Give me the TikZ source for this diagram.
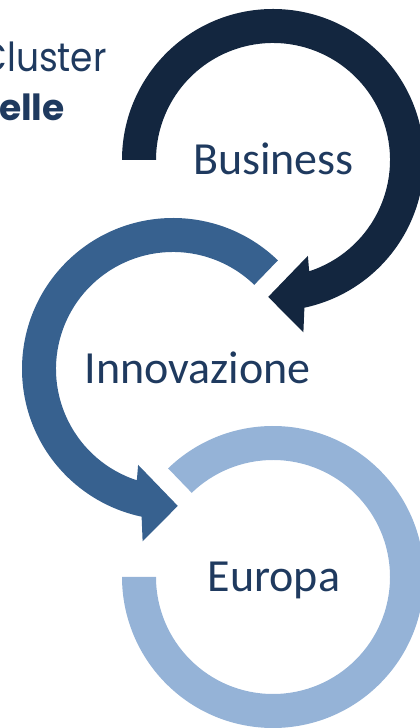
\documentclass[tikz,border=0pt]{standalone}
\usepackage{fontspec}
\setmainfont{Carlito}
\newfontfamily\titlefont{Poppins}[FakeStretch=0.9]
\newfontfamily\titleboldfont{Poppins}
\definecolor{navy}{HTML}{13263F}
\definecolor{bluemid}{HTML}{37618F}
\definecolor{bluelight}{HTML}{95B3D7}
\definecolor{textblue}{HTML}{1F3A5F}
\tikzset{voce/.style={font=\fontsize{34.5pt}{40pt}\selectfont, text=textblue, inner sep=0pt}}
\begin{document}
\begin{tikzpicture}[x=0.75pt,y=0.75pt]
\useasboundingbox (0,0) rectangle (420,728);
%Tam cac vong
\coordinate (c1) at (273,568);
\coordinate (c2) at (173,359);
\coordinate (c3) at (273,151);
%Tieu de
\node[anchor=base east,inner sep=0pt,text=textblue,font=\titlefont\fontsize{30pt}{34pt}\selectfont] (cluster) at (107,656) {Cluster};
\node[anchor=base east,inner sep=0pt,text=textblue,font=\titleboldfont\bfseries\fontsize{27pt}{32pt}\selectfont] (elle) at (65,607) {elle};
%Vong 1
\fill[navy,shift={(c1)}] (180:151) arc[start angle=180,end angle=-78,radius=151] -- (-80:175) -- (-92:137) -- (-70:102) -- (-72:117) arc[start angle=-72,end angle=180,radius=117] -- cycle;
%Vong 2
\fill[bluemid,shift={(c2)}] (46:151) arc[start angle=46,end angle=258,radius=151] -- (260:175) -- (272:137) -- (250:102) -- (252:117) arc[start angle=252,end angle=46,radius=117] -- cycle;
%Vong 3
\fill[bluelight,shift={(c3)}] (134:151) arc[start angle=134,end angle=-180,radius=151] -- (180:117) arc[start angle=-180,end angle=134,radius=117] -- cycle;
%Chu
\node[voce,anchor=base] (business) at (273.5,553) {Business};
\node[voce,anchor=base] (innovazione) at (197.5,344) {Innovazione};
\node[voce,anchor=base] (europa) at (274,136) {Europa};
\end{tikzpicture}
\end{document}
